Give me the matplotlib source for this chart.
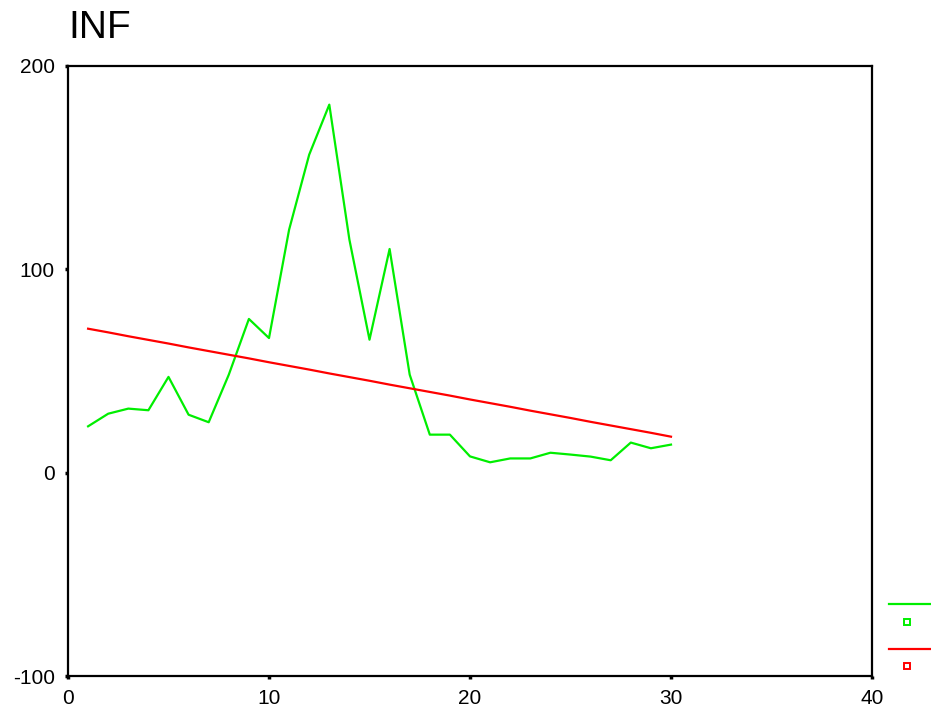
import numpy as np
import matplotlib.pyplot as plt
from matplotlib.lines import Line2D

plt.rcParams['font.family'] = ['Liberation Sans', 'DejaVu Sans']
plt.rcParams['axes.unicode_minus'] = False

# serie observada y recta de tendencia
periodo = list(range(1, 31))
inf = [22.8, 29.0, 31.5, 30.7, 47.1, 28.5, 24.8, 48.2, 75.6, 66.2,
       119.5, 156.4, 181.0, 114.6, 65.4, 110.0, 48.2, 18.7, 18.7, 8.0,
       5.1, 7.0, 7.0, 9.8, 8.9, 7.9, 6.1, 14.8, 12.0, 13.8]
tendencia = [70.8, 69.0, 67.1, 65.3, 63.5, 61.6, 59.8, 58.0, 56.2, 54.3,
             52.5, 50.7, 48.8, 47.0, 45.2, 43.3, 41.5, 39.7, 37.9, 36.0,
             34.2, 32.4, 30.5, 28.7, 26.9, 25.0, 23.2, 21.4, 19.6, 17.7]

xticks = [0, 10, 20, 30, 40]
yticks = [-100, 0, 100, 200]

fig = plt.figure(figsize=(9.31, 7.15), dpi=100)
ax = fig.add_axes([68 / 931, 1 - 676 / 715, 804 / 931, 610 / 715])

ax.plot(periodo, inf, color='#00ee00', linewidth=1.6)
ax.plot(periodo, tendencia, color='#ff0000', linewidth=1.6)

ax.set_xlim(0, 40)
ax.set_ylim(-100, 200)
ax.set_xticks(xticks)
ax.set_yticks(yticks)
ax.tick_params(direction='out', length=2.5, width=2.5, labelsize=15, pad=7)

for s in ax.spines.values():
    s.set_linewidth(1.6)

fig.text(68 / 931, 1 - 38 / 715, 'INF', fontsize=28, ha='left', va='baseline')

# leyenda sin texto
for yl, ys, c in [(604, 622, '#00ee00'), (649, 666, '#ff0000')]:
    fig.add_artist(Line2D([889 / 931, 930 / 931], [1 - yl / 715] * 2,
                          color=c, linewidth=1.6, transform=fig.transFigure))
    fig.add_artist(Line2D([907 / 931], [1 - ys / 715], marker='s', markersize=5,
                          markerfacecolor='white', markeredgecolor=c,
                          markeredgewidth=1.4, linestyle='none',
                          transform=fig.transFigure))

fig.savefig('out.png', dpi=100)
